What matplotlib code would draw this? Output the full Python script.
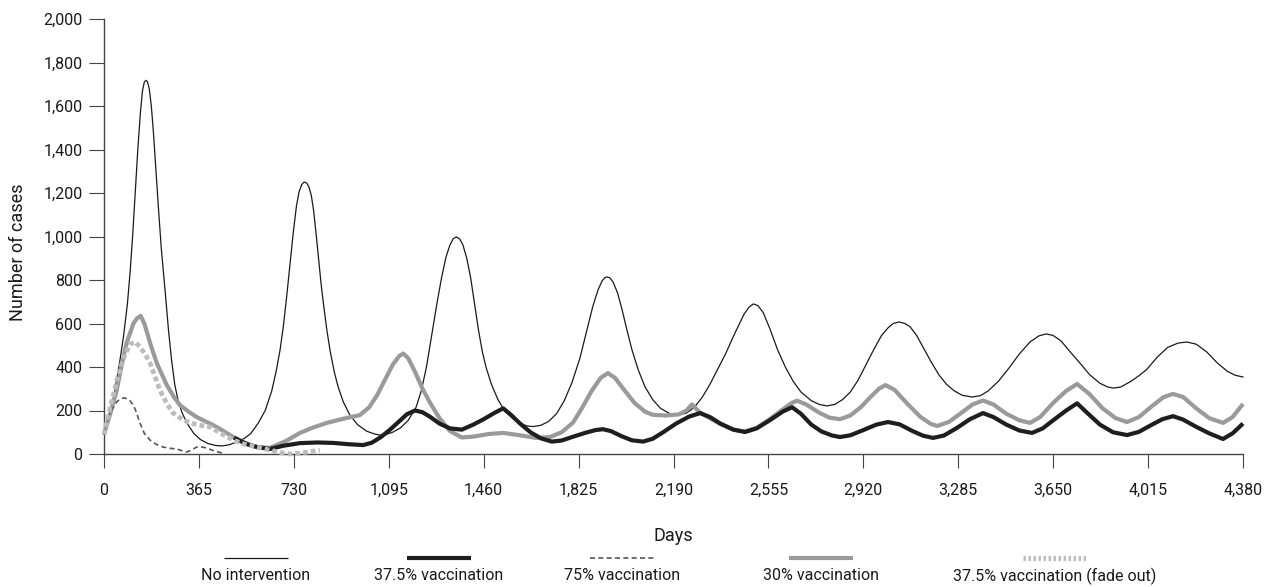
import matplotlib
matplotlib.use("Agg")
import matplotlib.pyplot as plt
from matplotlib.lines import Line2D

plt.rcParams['font.family'] = ['Roboto', 'DejaVu Sans']

# days / values
no_int_days = [0, 20, 40, 60, 75, 90, 100, 110, 120, 130, 140, 148, 155, 161, 167, 174, 182, 190, 200, 210,
               220, 235, 248, 260, 272, 285, 300, 320, 345, 370, 400, 430, 453, 480, 510, 540, 565, 592,
               620, 645, 662, 677, 690, 703, 716, 728, 740, 750, 760, 767, 773, 780, 788, 797, 806, 815,
               825, 835, 845, 857, 869, 885, 900, 920, 945, 975, 1010, 1040, 1061, 1085, 1110, 1140, 1170,
               1200, 1220, 1240, 1262, 1280, 1298, 1315, 1330, 1343, 1355, 1367, 1380, 1395, 1410, 1425,
               1440, 1455, 1470, 1490, 1515, 1540, 1570, 1600, 1627, 1650, 1680, 1710, 1740, 1770, 1800,
               1830, 1857, 1880, 1900, 1915, 1925, 1934, 1945, 1958, 1975, 1992, 2011, 2030, 2055, 2080,
               2110, 2140, 2175, 2207, 2240, 2270, 2300, 2330, 2360, 2390, 2420, 2440, 2460, 2480, 2497,
               2515, 2535, 2561, 2590, 2620, 2650, 2680, 2720, 2750, 2780, 2810, 2840, 2870, 2900, 2930,
               2960, 2990, 3015, 3035, 3057, 3080, 3100, 3125, 3150, 3180, 3210, 3240, 3270, 3300, 3338,
               3370, 3400, 3440, 3480, 3520, 3561, 3595, 3623, 3650, 3680, 3715, 3753, 3790, 3830, 3860,
               3881, 3910, 3950, 3980, 4011, 4050, 4090, 4130, 4164, 4200, 4240, 4280, 4320, 4350, 4380]
no_int_vals = [90, 170, 280, 420, 540, 690, 830, 1000, 1200, 1400, 1570, 1670, 1710, 1718, 1712, 1680, 1600,
               1480, 1300, 1120, 950, 750, 570, 430, 320, 245, 190, 140, 95, 67, 48, 39, 37, 42, 55, 72, 95,
               140, 200, 290, 380, 478, 590, 730, 880, 1020, 1140, 1205, 1238, 1248, 1250, 1245, 1228, 1190,
               1120, 1020, 900, 780, 680, 570, 478, 380, 310, 240, 180, 135, 105, 92, 87, 90, 100, 120, 155,
               215, 290, 400, 560, 690, 810, 905, 960, 990, 998, 990, 962, 900, 810, 690, 570, 470, 395,
               320, 250, 200, 165, 140, 129, 126, 132, 150, 185, 245, 330, 440, 570, 680, 755, 795, 810,
               814, 810, 790, 740, 665, 570, 480, 385, 310, 250, 210, 186, 179, 188, 215, 260, 320, 390,
               460, 540, 590, 640, 675, 690, 682, 650, 575, 480, 400, 335, 285, 245, 228, 221, 228, 250,
               285, 340, 410, 480, 545, 580, 600, 607, 600, 585, 545, 490, 425, 365, 320, 290, 270, 262,
               268, 290, 335, 395, 460, 515, 543, 552, 545, 520, 470, 418, 365, 325, 308, 303, 308, 335,
               360, 390, 445, 490, 510, 515, 505, 470, 420, 380, 362, 354]

vac375_days = [500, 550, 588, 638, 690, 754, 820, 881, 940, 997, 1030, 1065, 1100, 1135, 1165, 1196, 1225,
               1255, 1290, 1330, 1376, 1420, 1460, 1500, 1535, 1565, 1600, 1640, 1680, 1722, 1760, 1800,
               1850, 1890, 1919, 1950, 1990, 2030, 2073, 2110, 2150, 2200, 2250, 2292, 2330, 2370, 2420,
               2465, 2510, 2560, 2610, 2646, 2680, 2720, 2760, 2800, 2830, 2870, 2920, 2970, 3015, 3060,
               3110, 3150, 3188, 3230, 3280, 3330, 3380, 3420, 3470, 3520, 3569, 3610, 3650, 3700, 3742,
               3780, 3830, 3880, 3934, 3980, 4030, 4070, 4111, 4150, 4200, 4250, 4303, 4340, 4380]
vac375_vals = [75, 45, 32, 23, 38, 50, 53, 51, 45, 41, 52, 78, 112, 150, 183, 200, 192, 170, 140, 118, 112,
               135, 160, 188, 210, 180, 140, 100, 72, 57, 62, 78, 97, 110, 114, 105, 82, 63, 57, 70, 100,
               140, 172, 188, 170, 140, 112, 101, 118, 155, 195, 215, 185, 135, 103, 85, 78, 86, 110, 135,
               147, 136, 105, 84, 74, 85, 120, 160, 188, 170, 135, 108, 97, 118, 155, 200, 233, 190, 135,
               100, 87, 102, 135, 160, 174, 158, 125, 95, 69, 95, 140]

vac75_days = [0, 23, 49, 65, 81, 100, 113, 125, 138, 155, 177, 200, 227, 255, 281, 300, 318, 337, 356, 375,
              395, 415, 439, 453]
vac75_vals = [90, 189, 240, 255, 258, 245, 225, 190, 143, 95, 64, 45, 32, 26, 23, 15, 9, 18, 32, 32, 28, 18,
              9, 5]

vac30_days = [0, 25, 49, 70, 87, 113, 128, 141, 155, 180, 203, 240, 270, 292, 325, 356, 390, 420, 460, 497,
              540, 588, 638, 700, 754, 800, 857, 920, 984, 1020, 1050, 1080, 1110, 1135, 1151, 1170, 1195,
              1225, 1254, 1290, 1331, 1376, 1420, 1480, 1535, 1600, 1660, 1715, 1760, 1804, 1840, 1875,
              1910, 1938, 1965, 2000, 2040, 2080, 2111, 2160, 2210, 2240, 2261, 2290, 2319, 2370, 2420,
              2465, 2510, 2560, 2610, 2645, 2665, 2700, 2750, 2790, 2830, 2870, 2910, 2950, 2980, 3005,
              3040, 3090, 3140, 3180, 3205, 3250, 3300, 3340, 3380, 3420, 3470, 3520, 3561, 3600, 3650,
              3700, 3742, 3790, 3840, 3890, 3934, 3980, 4030, 4075, 4111, 4150, 4200, 4250, 4303, 4340,
              4380]
vac30_vals = [90, 190, 294, 420, 510, 600, 625, 635, 600, 500, 418, 320, 260, 225, 195, 170, 150, 133, 105,
              78, 52, 32, 28, 60, 97, 120, 143, 162, 179, 215, 270, 340, 410, 450, 462, 440, 380, 300, 235,
              165, 105, 76, 80, 92, 97, 86, 74, 78, 100, 145, 215, 290, 350, 372, 350, 295, 235, 195, 180,
              177, 182, 200, 228, 192, 172, 138, 112, 104, 120, 160, 205, 235, 245, 228, 190, 167, 160,
              177, 215, 265, 300, 317, 295, 230, 170, 138, 129, 148, 192, 228, 246, 228, 185, 155, 143,
              170, 235, 290, 322, 275, 210, 165, 147, 170, 220, 262, 276, 262, 210, 165, 143, 170, 230]

fade_days = [0, 25, 50, 75, 100, 120, 140, 160, 177, 195, 215, 240, 265, 300, 331, 370, 408, 450, 497, 540,
             588, 638, 680, 715, 750, 781, 830]
fade_vals = [90, 220, 340, 440, 505, 515, 490, 455, 418, 360, 294, 235, 189, 160, 143, 132, 124, 95, 64, 45,
             32, 18, 6, 0, 3, 9, 18]

x_ticks = [0, 365, 730, 1095, 1460, 1825, 2190, 2555, 2920, 3285, 3650, 4015, 4380]
y_ticks = [0, 200, 400, 600, 800, 1000, 1200, 1400, 1600, 1800, 2000]

W, H = 1268, 587
fig = plt.figure(figsize=(W / 100, H / 100), dpi=100)
ax = fig.add_axes([104 / W, 1 - 454 / H, (1243 - 104) / W, (454 - 19) / H])

styles = {
    'no': dict(color='#1a1a1a', lw=0.9, ls='-'),
    'v375': dict(color='#1e1e1e', lw=3.0, ls='-'),
    'v75': dict(color='#555555', lw=1.2, ls=(0, (3, 2))),
    'v30': dict(color='#9a9a9a', lw=3.0, ls='-'),
    'fade': dict(color='#bcbcbc', lw=3.4, ls=(0, (1, 0.65))),
}

ax.plot(no_int_days, no_int_vals, clip_on=False, zorder=2, **styles['no'])
ax.plot(vac30_days, vac30_vals, clip_on=False, zorder=3, solid_capstyle='butt', **styles['v30'])
ax.plot(vac375_days, vac375_vals, clip_on=False, zorder=4, solid_capstyle='butt', **styles['v375'])
ax.plot(vac75_days, vac75_vals, clip_on=False, zorder=5, **styles['v75'])
ax.plot(fade_days, fade_vals, clip_on=False, zorder=6, dash_capstyle='butt', **styles['fade'])

ax.set_xlim(0, 4380)
ax.set_ylim(0, 2000)
ax.set_xticks(x_ticks)
ax.set_xticklabels([f"{t:,}" for t in x_ticks])
ax.set_yticks(y_ticks)
ax.set_yticklabels([f"{t:,}" for t in y_ticks])

for s in ['top', 'right']:
    ax.spines[s].set_visible(False)
for s in ['left', 'bottom']:
    ax.spines[s].set_color('#444444')
    ax.spines[s].set_linewidth(1.0)
ax.tick_params(axis='y', length=10.5, width=0.8, color='#444444', pad=5, labelsize=11.5, labelcolor='#1a1a1a')
ax.tick_params(axis='x', length=10, width=0.8, color='#444444', pad=11, labelsize=11.5, labelcolor='#1a1a1a')

def fx(px):
    return px / W

def fy(py):
    return 1 - py / H

fig.text(fx(18), fy(252), "Number of cases", rotation=90, ha='center', va='center', fontsize=13, color='#1a1a1a')
fig.text(fx(673), fy(536), "Days", ha='center', va='center', fontsize=13, color='#1a1a1a')

legend_labels = ["No intervention", "37.5% vaccination", "75% vaccination", "30% vaccination",
                 "37.5% vaccination (fade out)"]
legend_keys = ['no', 'v375', 'v75', 'v30', 'fade']
legend_x = [256, 439, 622, 821, 1055]
for lab, key, cx in zip(legend_labels, legend_keys, legend_x):
    st = dict(styles[key])
    if key == 'fade':
        st['lw'] = 3.8
        st['ls'] = (0, (0.45, 0.5))
    fig.add_artist(Line2D([fx(cx - 32), fx(cx + 32)], [fy(558), fy(558)], transform=fig.transFigure,
                          solid_capstyle='butt', dash_capstyle='butt', **st))
    fig.text(fx(cx), fy(576), lab, ha='center', va='center', fontsize=11.5, color='#1a1a1a')

fig.savefig("out.png", dpi=100)
